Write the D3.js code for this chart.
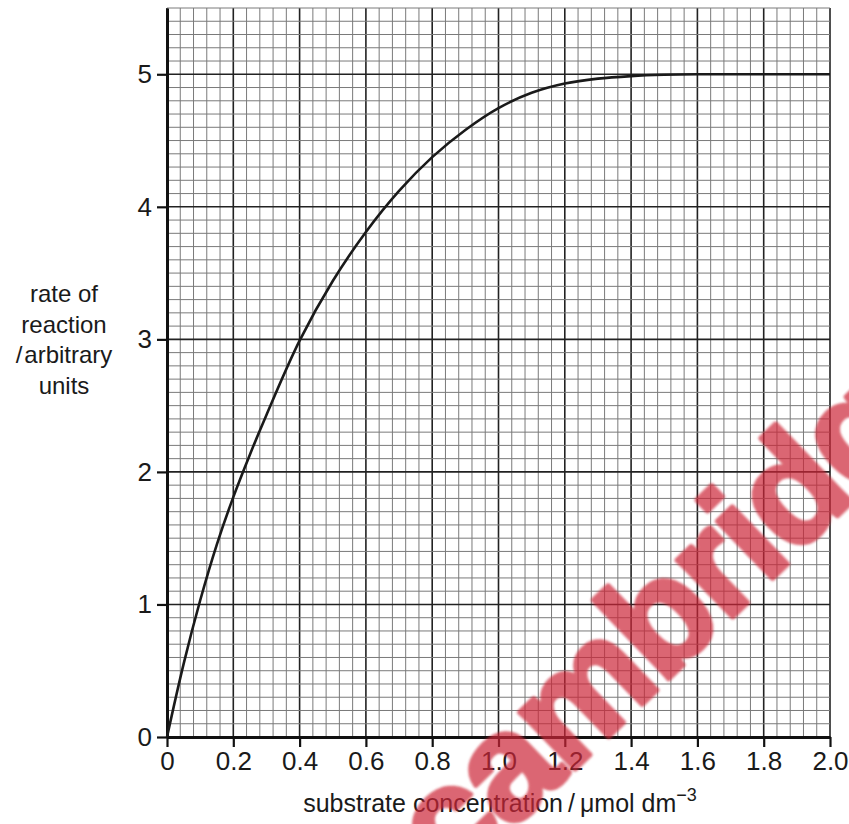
<!DOCTYPE html>
<html>
<head>
<meta charset="utf-8">
<script src="https://cdn.jsdelivr.net/npm/d3@7"></script>
<style>
  body { margin: 0; background: #fff; }
  svg { display: block; font-family: "Liberation Sans", Arial, sans-serif; }
</style>
</head>
<body>
<div id="chart"></div>
<script>
// substrate concentration (x) and rate of reaction (y)
const concentration = [0, 0.05, 0.1, 0.15, 0.2, 0.25, 0.3, 0.4, 0.5, 0.6, 0.7, 0.8, 0.9, 1.0, 1.1, 1.2, 1.3, 1.4, 1.5, 1.6, 1.8, 2.0];
const rate = [0, 0.55, 1.03, 1.45, 1.81, 2.13, 2.43, 2.99, 3.44, 3.81, 4.12, 4.375, 4.58, 4.745, 4.86, 4.93, 4.967, 4.986, 4.996, 5.0, 5.0, 5.0];

const xTickValues = [0, 0.2, 0.4, 0.6, 0.8, 1.0, 1.2, 1.4, 1.6, 1.8, 2.0];
const xTickLabels = ["0", "0.2", "0.4", "0.6", "0.8", "1.0", "1.2", "1.4", "1.6", "1.8", "2.0"];
const yTickValues = [0, 1, 2, 3, 4, 5];
const yTickLabels = ["0", "1", "2", "3", "4", "5"];

const yTitleLines = ["rate of", "reaction", "/\u200aarbitrary", "units"];

const W = 849, H = 824;
const margin = { top: 8, right: 19, bottom: 87, left: 167 };
const plotW = W - margin.left - margin.right;
const plotH = H - margin.top - margin.bottom;

const svg = d3.select("#chart").append("svg")
    .attr("width", W).attr("height", H);

const g = svg.append("g").attr("transform", `translate(${margin.left},${margin.top})`);

const x = d3.scaleLinear().domain([0, 2.0]).range([0, plotW]);
const y = d3.scaleLinear().domain([0, 5.5]).range([plotH, 0]);

// graph paper: minor every 0.04 / 0.1, major every 0.2 / 1
const xMinor = d3.range(0, 51).map(i => +(i * 0.04).toFixed(2));
const yMinor = d3.range(0, 56).map(i => +(i * 0.1).toFixed(1));
const isMajorX = d => Math.round(d * 100) % 20 === 0;
const isMajorY = d => Math.round(d * 10) % 10 === 0;

g.append("g").selectAll("line").data(xMinor).enter().append("line")
    .attr("x1", d => x(d)).attr("x2", d => x(d))
    .attr("y1", 0).attr("y2", plotH)
    .attr("stroke", d => isMajorX(d) ? "#222" : "#7a7a7a")
    .attr("stroke-width", d => isMajorX(d) ? 1.6 : 1);

g.append("g").selectAll("line").data(yMinor).enter().append("line")
    .attr("x1", 0).attr("x2", plotW)
    .attr("y1", d => y(d)).attr("y2", d => y(d))
    .attr("stroke", d => isMajorY(d) ? "#222" : "#7a7a7a")
    .attr("stroke-width", d => isMajorY(d) ? 1.6 : 1);

// axes
const xAxis = g.append("g").attr("transform", `translate(0,${plotH})`)
    .call(d3.axisBottom(x).tickValues(xTickValues)
        .tickFormat((d, i) => xTickLabels[i]).tickSize(10).tickSizeOuter(0).tickPadding(5));
const yAxis = g.append("g")
    .call(d3.axisLeft(y).tickValues(yTickValues)
        .tickFormat((d, i) => yTickLabels[i]).tickSize(10).tickSizeOuter(0).tickPadding(5));

[xAxis, yAxis].forEach(a => {
    a.select(".domain").attr("stroke", "#111").attr("stroke-width", 3);
    a.selectAll(".tick line").attr("stroke", "#111").attr("stroke-width", 2.2);
    a.selectAll(".tick text").attr("fill", "#1a1a1a")
        .style("font-size", "26px").style("font-family", "'Liberation Sans', Arial, sans-serif");
});

// curve
const line = d3.line()
    .x((d, i) => x(concentration[i]))
    .y(d => y(d))
    .curve(d3.curveCatmullRom.alpha(0.5));

g.append("path").datum(rate)
    .attr("d", line)
    .attr("fill", "none")
    .attr("stroke", "#1a1a1a")
    .attr("stroke-width", 2.6)
    .attr("stroke-linejoin", "round");

// y title
const yt = svg.append("text")
    .attr("text-anchor", "middle")
    .attr("fill", "#1a1a1a")
    .style("font-size", "24px");
yTitleLines.forEach((t, i) => {
    yt.append("tspan").attr("x", 64).attr("y", 302 + i * 30.7).text(t);
});

// x title
const xt = svg.append("text")
    .attr("x", 500).attr("y", 812)
    .attr("text-anchor", "middle")
    .attr("fill", "#1a1a1a")
    .style("font-size", "25px");
xt.append("tspan").text("substrate concentration\u2009/\u2009\u03bcmol dm");
xt.append("tspan").attr("dy", -11).style("font-size", "18px").text("\u22123");

// watermark
const defs = svg.append("defs");
defs.append("filter").attr("id", "soft")
    .append("feGaussianBlur").attr("stdDeviation", 1.2);

svg.append("text")
    .attr("transform", "translate(452,888) rotate(-44)")
    .attr("fill", "rgb(205,40,55)")
    .attr("stroke", "rgb(205,40,55)")
    .attr("stroke-width", 5)
    .attr("stroke-linejoin", "round")
    .attr("opacity", 0.7)
    .attr("filter", "url(#soft)")
    .style("font-size", "150px")
    .style("font-weight", "bold")
    .style("letter-spacing", "-3px")
    .style("font-family", "'Liberation Sans', Arial, sans-serif")
    .text("cambridge");
</script>
</body>
</html>
